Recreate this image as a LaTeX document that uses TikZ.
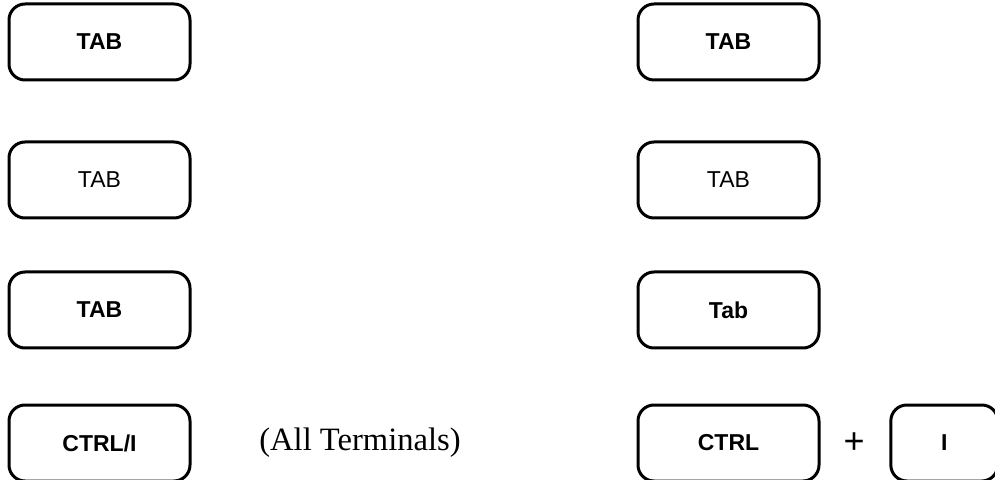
\documentclass[tikz,border=0pt]{standalone}
\usepackage{fontspec}
\setmainfont{Liberation Serif}
\setsansfont{Liberation Sans}
\usetikzlibrary{positioning}
\tikzset{
  keybox/.style={
    draw=black, line width=1.5pt, rounded corners=8pt,
    minimum width=90.5pt, minimum height=38pt, inner sep=0pt,
    font=\fontsize{11.5}{12}\selectfont\sffamily\bfseries
  },
  keylight/.style={
    keybox, font=\fontsize{11.5}{12}\selectfont\sffamily
  },
  smallkey/.style={
    keybox, minimum width=53.5pt
  },
  note/.style={
    font=\fontsize{16.3}{18}\selectfont\rmfamily, inner sep=0pt
  },
  plussign/.style={
    font=\fontsize{18}{18}\selectfont\sffamily, inner sep=0pt
  },
}
\begin{document}
\begin{tikzpicture}[x=0.5pt, y=-0.5pt]
\useasboundingbox (0,0) rectangle (995,480);

% row 1
\node[keybox] (tabA) at (99.5,42) {TAB};
\node[keybox] (tabB) at (728.5,42) {TAB};

% row 2
\node[keylight] (tabC) at (99.5,180) {TAB};
\node[keylight] (tabD) at (728.5,180) {TAB};

% row 3
\node[keybox] (tabE) at (99.5,310) {TAB};
\node[keybox] (tabF) at (728.5,310) {Tab};

% row 4: control combinations
\node[keybox] (ctrlI) at (99.5,443) {CTRL/I};
\node[note] (allterm) at (360,443) {(All Terminals)};
\node[keybox] (ctrl) at (728.5,443) {CTRL};
\node[plussign, right=11.3pt of ctrl] (plus) {+};
\node[smallkey, right=12.2pt of plus] (keyI) {I};

\end{tikzpicture}
\end{document}
